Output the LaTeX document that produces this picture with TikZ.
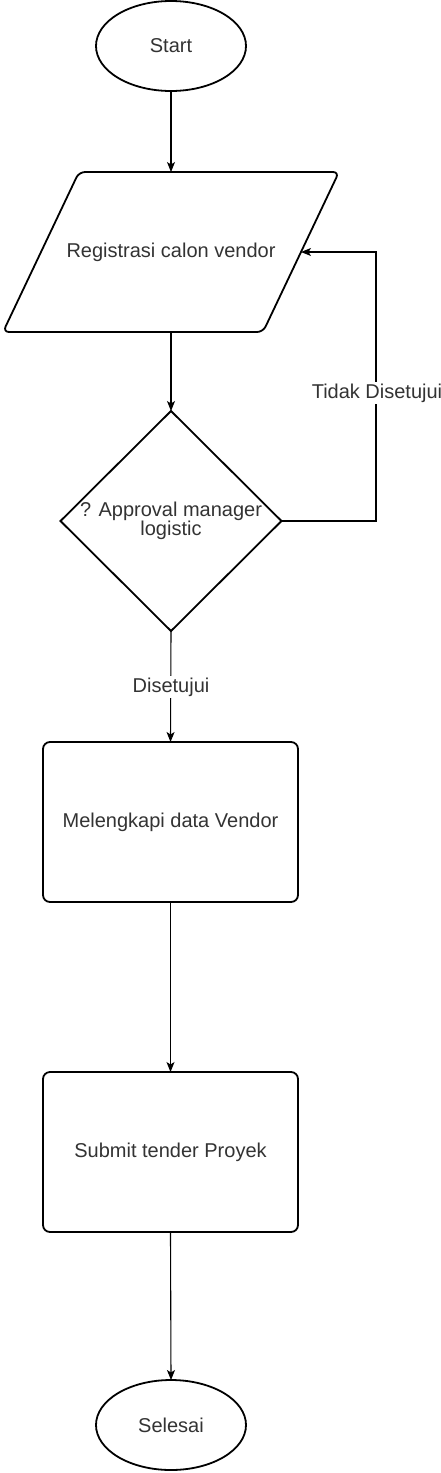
\documentclass[tikz,border=0pt]{standalone}
\usepackage{fontspec}
\setmainfont{Liberation Sans}
\usetikzlibrary{shapes.geometric,arrows.meta}
\definecolor{txt}{HTML}{333333}
\tikzset{
  shapeline/.style={draw=black, line width=1.8pt, fill=white},
  termbox/.style={shapeline, ellipse, minimum width=150pt, minimum height=90pt, inner sep=0pt, outer sep=0pt},
  procbox/.style={shapeline, rounded corners=7pt, minimum width=255pt, minimum height=160pt, inner sep=0pt, outer sep=0pt},
  decbox/.style={shapeline, diamond, minimum width=221pt, minimum height=220pt, inner sep=0pt, outer sep=0pt},
  label/.style={text=txt, font=\fontsize{20}{19}\selectfont, align=center, inner sep=1pt},
  conn/.style={draw=black, line width=1.1pt, -{Stealth[length=10pt,width=8pt,inset=2.5pt]}},
  edgelabel/.style={label, fill=white, inner sep=2pt}
}
\begin{document}
\begin{tikzpicture}[x=1pt,y=-1pt]
\useasboundingbox (0,0) rectangle (441,1473);
% Start
\node[termbox] (start) at (171,46) {};
\node[label] (startT) at (start) {Start};
% Parallelogram
\coordinate (regTop) at (171,172);
\coordinate (regBot) at (171,332);
\coordinate (regR) at (301,252);
\draw[shapeline, rounded corners=6pt] (79,172) -- (339,172) -- (263,332) -- (3,332) -- cycle;
\node[label] (reg) at (171,252) {Registrasi calon vendor};
% Decision
\node[decbox] (dec) at (171,521) {};
\node[label] (decT) at (171,521) {? Approval manager\\logistic};
% Process boxes
\node[procbox] (lengkap) at (170.5,822) {};
\node[label] (lengkapT) at (lengkap) {Melengkapi data Vendor};
\node[procbox] (submit) at (170.5,1152) {};
\node[label] (submitT) at (submit) {Submit tender Proyek};
% End
\node[termbox] (end) at (171,1425) {};
\node[label] (endT) at (end) {Selesai};
% Connectors
\draw[conn] (start.south) -- (regTop);
\draw[conn] (regBot) -- (dec.north);
\coordinate (loopA) at (376,521);
\coordinate (loopB) at (376,252);
\draw[conn] (dec.east) -- (loopA) -- (loopB) -- (regR);
\node[edgelabel] (tidak) at (377,393) {Tidak Disetujui};
\draw[conn] (dec.south) -- (lengkap.north);
\node[edgelabel] (setuju) at (171,687) {Disetujui};
\draw[conn] (lengkap.south) -- (submit.north);
\draw[conn] (submit.south) -- (end.north);
\end{tikzpicture}
\end{document}
